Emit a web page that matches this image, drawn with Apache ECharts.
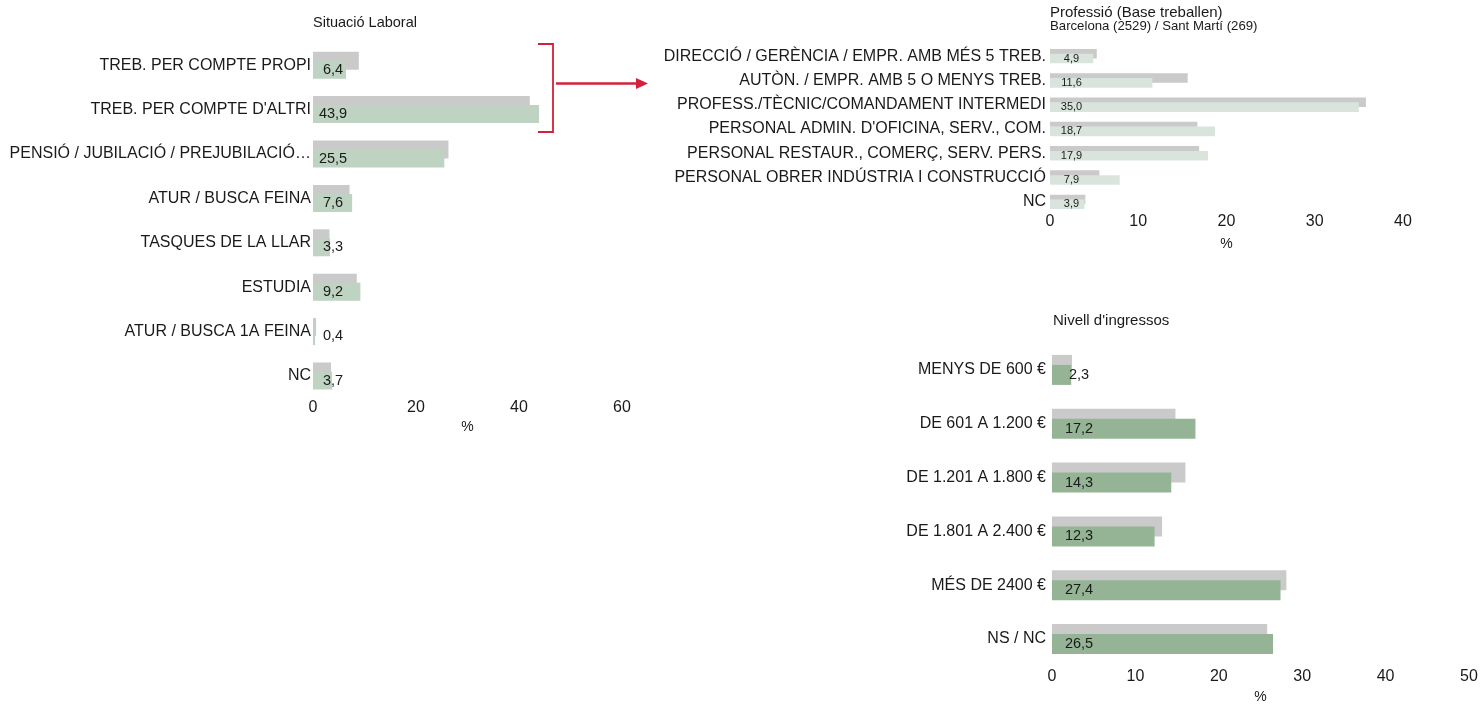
<!DOCTYPE html>
<html>
<head>
<meta charset="utf-8">
<title>Situació laboral, professió i nivell d'ingressos</title>
<script src="https://cdn.jsdelivr.net/npm/echarts@6/dist/echarts.min.js"></script>
<style>
  html, body { margin: 0; padding: 0; background: #fff; }
  #chart { width: 1481px; height: 705px; }
</style>
</head>
<body>
<div id="chart"></div>
<script>
// --- Situació laboral ---
const laboralCategories = [
  'TREB. PER COMPTE PROPI',
  "TREB. PER COMPTE D'ALTRI",
  'PENSIÓ / JUBILACIÓ / PREJUBILACIÓ…',
  'ATUR / BUSCA FEINA',
  'TASQUES DE LA LLAR',
  'ESTUDIA',
  'ATUR / BUSCA 1A FEINA',
  'NC'
];
const laboralBarcelona = [8.9, 42.1, 26.3, 7.1, 3.2, 8.5, 0.6, 3.5];
const laboralSantMarti = [6.4, 43.9, 25.5, 7.6, 3.3, 9.2, 0.4, 3.7];
const laboralTicks = [0, 20, 40, 60];

// --- Professió (base: treballen) ---
const professioCategories = [
  'DIRECCIÓ / GERÈNCIA / EMPR. AMB MÉS 5 TREB.',
  'AUTÒN. / EMPR. AMB 5 O MENYS TREB.',
  'PROFESS./TÈCNIC/COMANDAMENT INTERMEDI',
  "PERSONAL ADMIN. D'OFICINA, SERV., COM.",
  'PERSONAL RESTAUR., COMERÇ, SERV. PERS.',
  'PERSONAL OBRER INDÚSTRIA I CONSTRUCCIÓ',
  'NC'
];
const professioBarcelona = [5.3, 15.6, 35.8, 16.7, 16.9, 5.6, 4.0];
const professioSantMarti = [4.9, 11.6, 35.0, 18.7, 17.9, 7.9, 3.9];
const professioTicks = [0, 10, 20, 30, 40];

// --- Nivell d'ingressos ---
const ingressosCategories = [
  'MENYS DE 600 €',
  'DE 601 A 1.200 €',
  'DE 1.201 A 1.800 €',
  'DE 1.801 A 2.400 €',
  'MÉS DE 2400 €',
  'NS / NC'
];
const ingressosBarcelona = [2.4, 14.8, 16.0, 13.2, 28.1, 25.8];
const ingressosSantMarti = [2.3, 17.2, 14.3, 12.3, 27.4, 26.5];
const ingressosTicks = [0, 10, 20, 30, 40, 50];

// --- styling ---
const FONT = 'Liberation Sans, Arial, sans-serif';
const TEXT = '#1a1a1a';
const GREY = '#cacaca';
const RED = '#d4203a';

const fmt = v => v.toFixed(1).replace('.', ',');

function valueAxis(gridIndex, ticks, margin, nameGap) {
  return {
    type: 'value',
    gridIndex,
    min: ticks[0],
    max: ticks[ticks.length - 1],
    interval: ticks[1] - ticks[0],
    axisLine: { show: false },
    axisTick: { show: false },
    splitLine: { show: false },
    axisLabel: { fontFamily: FONT, fontSize: 16, color: TEXT, margin },
    name: '%',
    nameLocation: 'middle',
    nameGap,
    nameTextStyle: { fontFamily: FONT, fontSize: 14, color: TEXT, verticalAlign: 'top' }
  };
}

function categoryAxis(gridIndex, cats, margin) {
  return {
    type: 'category',
    gridIndex,
    data: cats,
    inverse: true,
    axisLine: { show: false },
    axisTick: { show: false },
    splitLine: { show: false },
    axisLabel: { fontFamily: FONT, fontSize: 16, color: TEXT, margin, interval: 0 }
  };
}

function pair(idx, barcelona, santMarti, green, barWidth, labelSize, labelX) {
  return [
    {
      name: 'Barcelona',
      type: 'bar',
      xAxisIndex: idx,
      yAxisIndex: idx,
      data: barcelona,
      barWidth,
      barGap: '-50%',
      itemStyle: { color: GREY },
      silent: true
    },
    {
      name: 'Sant Martí',
      type: 'bar',
      xAxisIndex: idx,
      yAxisIndex: idx,
      data: santMarti,
      barWidth,
      barGap: '-50%',
      itemStyle: { color: green },
      silent: true,
      label: {
        show: true,
        position: [labelX, '50%'],
        align: 'center',
        verticalAlign: 'middle',
        fontFamily: FONT,
        fontSize: labelSize,
        color: TEXT,
        formatter: p => fmt(p.value)
      }
    }
  ];
}

const chart = echarts.init(document.getElementById('chart'), null, { renderer: 'canvas' });

chart.setOption({
  animation: false,
  backgroundColor: '#ffffff',
  title: [
    { text: 'Situació Laboral', left: 313, top: 15,
      padding: 0, textStyle: { fontFamily: FONT, fontSize: 14.5, fontWeight: 'normal', color: TEXT } },
    { text: 'Professió (Base treballen)', left: 1050, top: 5,
      padding: 0, textStyle: { fontFamily: FONT, fontSize: 15, fontWeight: 'normal', color: TEXT } },
    { text: 'Barcelona (2529) / Sant Martí (269)', left: 1050, top: 19.5,
      padding: 0, textStyle: { fontFamily: FONT, fontSize: 13.2, fontWeight: 'normal', color: TEXT } },
    { text: "Nivell d'ingressos", left: 1053, top: 313,
      padding: 0, textStyle: { fontFamily: FONT, fontSize: 15, fontWeight: 'normal', color: TEXT } }
  ],
  grid: [
    { left: 313, top: 43, width: 309, height: 355.2, containLabel: false },
    { left: 1050, top: 44, width: 353, height: 170, containLabel: false },
    { left: 1052, top: 343, width: 417, height: 329, containLabel: false }
  ],
  xAxis: [
    valueAxis(0, laboralTicks, 1, 21),
    valueAxis(1, professioTicks, 0, 23),
    valueAxis(2, ingressosTicks, 3, 24)
  ],
  yAxis: [
    categoryAxis(0, laboralCategories, 2),
    categoryAxis(1, professioCategories, 4),
    categoryAxis(2, ingressosCategories, 6)
  ],
  series: [
    ...pair(0, laboralBarcelona, laboralSantMarti, '#bed3c1', 18, 14.5, 20),
    ...pair(1, professioBarcelona, professioSantMarti, '#d9e5dc', 9.6, 11, 21.5),
    ...pair(2, ingressosBarcelona, ingressosSantMarti, '#94b495', 20, 14.5, 27)
  ],
  // bracket grouping the two "working" rows, with an arrow pointing to the profession breakdown
  graphic: [
    {
      type: 'polyline',
      silent: true,
      shape: { points: [[538, 44], [553, 44], [553, 132], [538, 132]] },
      style: { stroke: RED, lineWidth: 1.8, fill: null }
    },
    {
      type: 'line',
      silent: true,
      shape: { x1: 556, y1: 83.5, x2: 638, y2: 83.5 },
      style: { stroke: RED, lineWidth: 2.6 }
    },
    {
      type: 'polygon',
      silent: true,
      shape: { points: [[636, 78], [648, 83.5], [636, 89]] },
      style: { fill: RED }
    }
  ]
});
</script>
</body>
</html>
